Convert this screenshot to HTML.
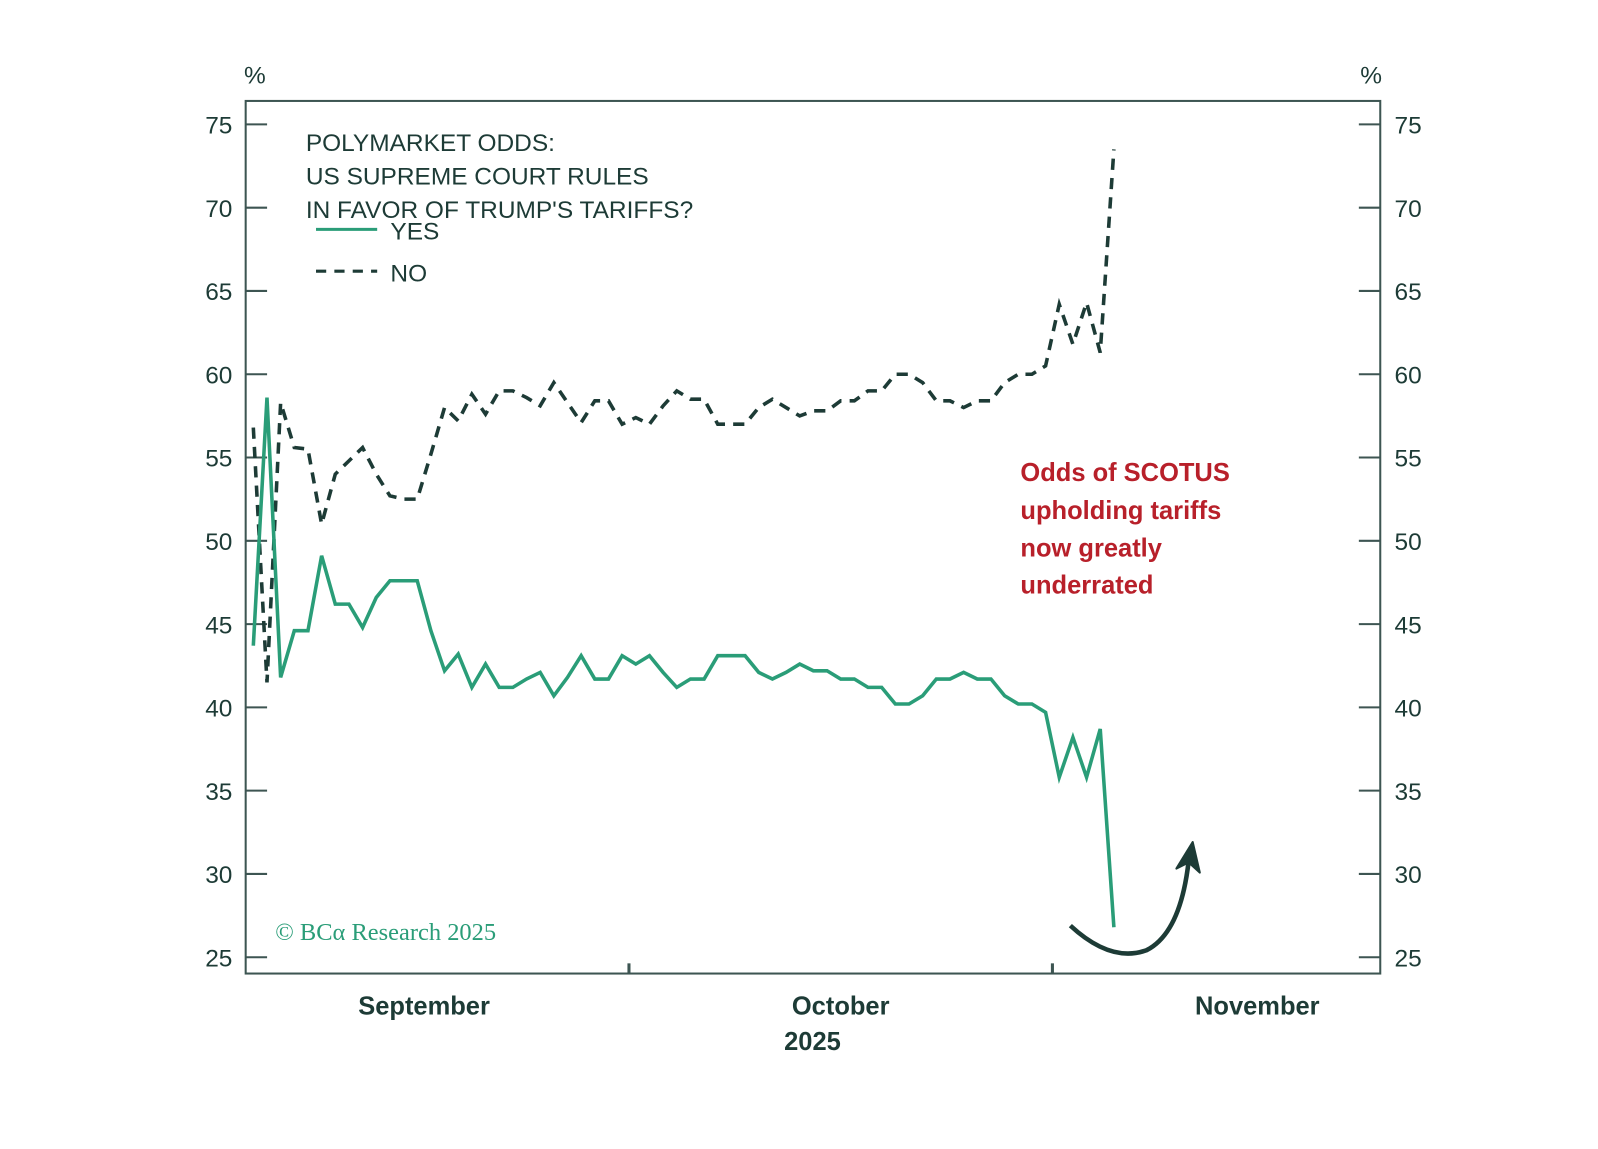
<!DOCTYPE html>
<html><head><meta charset="utf-8"><style>
body{margin:0;background:#fff;}
svg text{font-family:"Liberation Sans",sans-serif;}
</style></head><body>
<svg id="chart" width="1598" height="1144" viewBox="0 0 1567.6 1122.2" xmlns="http://www.w3.org/2000/svg">
<rect x="0" y="0" width="1600" height="1144" fill="#fff"/>
<g id="axes"></g>
<g id="series"></g>
<g>
<text x="300" y="148" font-size="24" fill="#1d3b36">POLYMARKET ODDS:</text>
<text x="300" y="181" font-size="24" fill="#1d3b36">US SUPREME COURT RULES</text>
<text x="300" y="214" font-size="24" fill="#1d3b36">IN FAVOR OF TRUMP'S TARIFFS?</text>
<line x1="310" y1="225" x2="370" y2="225" stroke="#2a9d78" stroke-width="3"/>
<text x="383" y="235" font-size="24" fill="#1d3b36">YES</text>
<line x1="310" y1="266" x2="370" y2="266" stroke="#1d3b36" stroke-width="3" stroke-dasharray="10,8"/>
<text x="383" y="276" font-size="24" fill="#1d3b36">NO</text>
</g>
<g font-size="25" font-weight="bold" fill="#b8202a">
<text x="1001" y="472">Odds of SCOTUS</text>
<text x="1001" y="509">upholding tariffs</text>
<text x="1001" y="546">now greatly</text>
<text x="1001" y="582">underrated</text>
</g>
<path d="M1050,908 Q1090,945 1125,932 Q1158,915 1166,845" fill="none" stroke="#1d3b36" stroke-width="4.5"/>
<path d="M1154,852 L1170,826 L1177,856 L1166,846 Z" fill="#1d3b36" stroke="#1d3b36" stroke-width="2" stroke-linejoin="round"/>
<text x="270" y="922" font-size="24" fill="#2a9d78" style="font-family:'Liberation Serif',serif">© BCα Research 2025</text>
</svg>
<script>
const yesValues=[43.7,58.6,41.8,44.6,44.6,49.1,46.2,46.2,44.8,46.6,47.6,47.6,47.6,44.6,42.2,43.2,41.2,42.6,41.2,41.2,41.7,42.1,40.7,41.8,43.1,41.7,41.7,43.1,42.6,43.1,42.1,41.2,41.7,41.7,43.1,43.1,43.1,42.1,41.7,42.1,42.6,42.2,42.2,41.7,41.7,41.2,41.2,40.2,40.2,40.7,41.7,41.7,42.1,41.7,41.7,40.7,40.2,40.2,39.7,35.8,38.2,35.8,38.7,26.8];
const noValues=[56.8,41.5,58.3,55.6,55.5,51,54,54.8,55.6,54,52.7,52.5,52.5,55.2,58,57.2,58.8,57.6,59,59,58.6,58.1,59.5,58.3,57.1,58.4,58.4,57,57.4,57,58.1,59,58.5,58.5,57,57,57,58,58.5,58,57.5,57.8,57.8,58.4,58.4,59,59,60,60,59.5,58.4,58.4,58,58.4,58.4,59.5,60,60,60.5,64.2,61.8,64.3,61.3,73.5];
const yTicks=[25,30,35,40,45,50,55,60,65,70,75];
const monthLabels=["September","October","November"];
const startDay=-27.5; // first observation, days relative to Oct 1
const NS="http://www.w3.org/2000/svg";
const L=241,R=1354,T=99,B=955;
function y(v){return 939-(v-25)*(939-122)/50;}
function xDay(d){return 617+d*13.4;}
function x(i){return xDay(startDay+i);}
function mk(tag,attrs,parent,txt){const e=document.createElementNS(NS,tag);for(const k in attrs)e.setAttribute(k,attrs[k]);if(txt!=null)e.textContent=txt;parent.appendChild(e);return e;}
const ax=document.getElementById('axes'),se=document.getElementById('series');
const frame=mk('rect',{x:L,y:T,width:R-L,height:B-T,fill:'none',stroke:'#3d5552','stroke-width':2},ax);


yTicks.forEach(v=>{
 const g=mk('g',{},ax);
 
 
 mk('line',{x1:L,x2:L+21,y1:y(v),y2:y(v),stroke:'#3d5552','stroke-width':2},g);
 mk('line',{x1:R-21,x2:R,y1:y(v),y2:y(v),stroke:'#3d5552','stroke-width':2},g);
 mk('text',{x:228,y:y(v)+9,'text-anchor':'end','font-size':24,fill:'#1d3b36'},g,v);
 mk('text',{x:1368,y:y(v)+9,'font-size':24,fill:'#1d3b36'},g,v);
});
const p1=mk('text',{x:250,y:82,'text-anchor':'middle','font-size':24,fill:'#1d3b36'},ax,'%');


const p2=mk('text',{x:1345,y:82,'text-anchor':'middle','font-size':24,fill:'#1d3b36'},ax,'%');


[0,31].forEach(d=>{const t=mk('line',{x1:xDay(d),x2:xDay(d),y1:B,y2:B-10,stroke:'#3d5552','stroke-width':3},ax);
 
 });
monthLabels.forEach((m,k)=>{const t=mk('text',{x:xDay(-15+k*30.5),y:995,'text-anchor':'middle','font-size':25,'font-weight':'bold',fill:'#1d3b36'},ax,m);
 
 });
const yr=mk('text',{x:797,y:1030,'text-anchor':'middle','font-size':25,'font-weight':'bold',fill:'#1d3b36'},ax,'2025');


function pts(a){return a.map((v,i)=>x(i).toFixed(1)+','+y(v).toFixed(1)).join(' ');}
const no=mk('polyline',{points:pts(noValues),fill:'none',stroke:'#1d3b36','stroke-width':3.5,'stroke-dasharray':'11,8'},se);


const yes=mk('polyline',{points:pts(yesValues),fill:'none',stroke:'#2a9d78','stroke-width':3.5,'stroke-linejoin':'miter'},se);


</script>
</body></html>
